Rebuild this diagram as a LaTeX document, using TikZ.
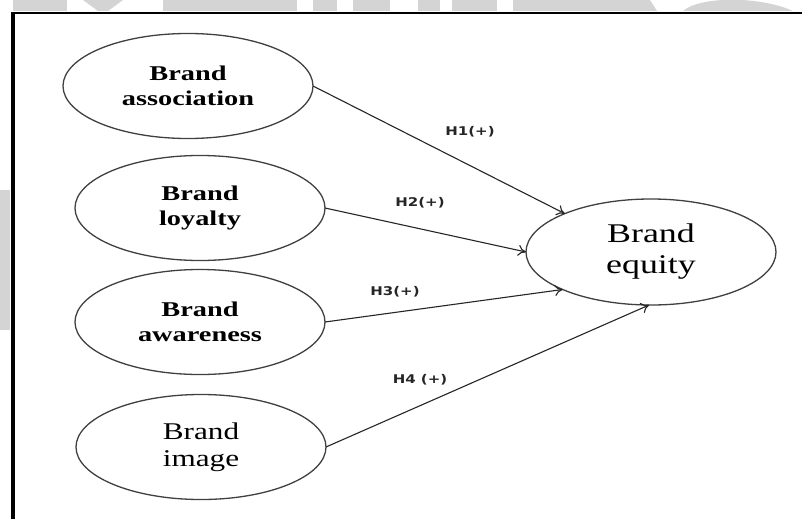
\documentclass[tikz,border=0pt]{standalone}
\usepackage{fontspec}
\usepackage{graphicx}
\setmainfont{Liberation Serif}
\newfontfamily\labfont{DejaVu Sans}
\usetikzlibrary{shapes.geometric,arrows.meta}
\definecolor{wm}{RGB}{212,212,212}
\tikzset{
  oval/.style={ellipse, draw=black!75, line width=1.3pt, inner sep=0pt, outer sep=0pt,
    minimum width=250pt, minimum height=105pt, align=center},
  bigtxt/.style={font=\fontsize{21}{25}\selectfont\bfseries},
  regtxt/.style={font=\fontsize{24}{27}\selectfont},
  eqtxt/.style={font=\fontsize{27}{31}\selectfont},
  hyp/.style={font=\labfont\bfseries\fontsize{12}{14}\selectfont, text=black!85, inner sep=0pt},
  link/.style={draw=black!85, line width=1.1pt, -{To[length=8pt,width=11pt]}},
  wmark/.style={fill=wm, draw=none}
}
\newcommand{\wide}[2]{\scalebox{#1}[1]{#2}}
\begin{document}
\begin{tikzpicture}[x=1pt,y=-1pt]
\useasboundingbox (0,0) rectangle (802,519);
\fill[white] (0,0) rectangle (802,519);
% watermark fragments
\fill[wmark] (13,0) rectangle (67,11);
\fill[wmark] (83,0) -- (123,0) -- (108,11) -- (98,11) -- cycle;
\fill[wmark] (163,0) rectangle (297,11);
\fill[wmark] (313,0) rectangle (337,11);
\fill[wmark] (353,0) rectangle (390,11);
\fill[wmark] (418,0) rectangle (440,11);
\fill[wmark] (452,0) rectangle (497,11);
\fill[wmark] (513,0) -- (650,0) -- (657,11) -- (513,11) -- cycle;
\fill[wmark] (683,11) .. controls (700,-4) and (760,-4) .. (793,11) -- cycle;
\fill[wmark] (0,190) rectangle (10,330);
% frame
\draw[black, line width=2.5pt] (13,13) -- (802,13);
\draw[black, line width=4pt] (13,12) -- (13,519);
% nodes
\node[oval, bigtxt] (assoc) at (188,86) {\wide{1.35}{Brand}\\\wide{1.35}{association}};
\node[oval, bigtxt] (loyal) at (200,208) {\wide{1.35}{Brand}\\\wide{1.35}{loyalty}};
\node[oval, bigtxt] (aware) at (200,322) {\wide{1.35}{Brand}\\\wide{1.35}{awareness}};
\node[oval, regtxt] (image) at (201,447) {\wide{1.3}{Brand}\\\wide{1.3}{image}};
\node[oval, eqtxt, minimum height=106pt] (equity) at (651,252) {\wide{1.33}{Brand}\\\wide{1.33}{equity}};
% connectors
\draw[link] (assoc.east) -- (equity.156);
\draw[link] (loyal.east) -- (equity.west);
\draw[link] (aware.east) -- (equity.203);
\draw[link] (image.east) -- (equity.268);
% labels
\node[hyp] (h1) at (470,132) {\wide{1.25}{H1(+)}};
\node[hyp] (h2) at (420,203) {\wide{1.25}{H2(+)}};
\node[hyp] (h3) at (395,292) {\wide{1.25}{H3(+)}};
\node[hyp] (h4) at (420,380) {\wide{1.25}{H4 (+)}};
\end{tikzpicture}
\end{document}
